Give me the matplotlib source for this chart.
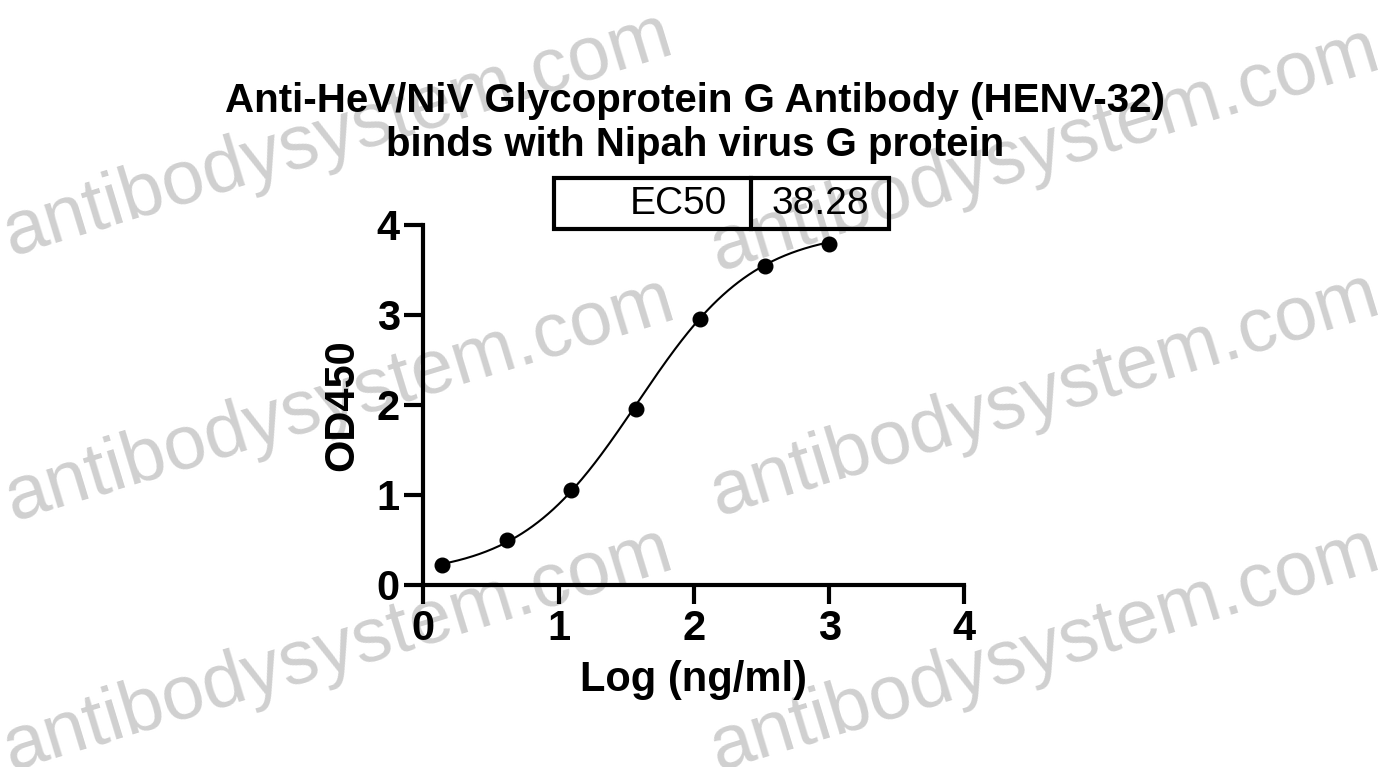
import matplotlib
matplotlib.use("Agg")
import matplotlib.pyplot as plt
import numpy as np

# Data
log_conc = [0.138, 0.615, 1.092, 1.569, 2.046, 2.523, 3.0]
od450 = [0.22, 0.50, 1.06, 1.96, 2.96, 3.54, 3.79]

# 4PL fit shown as the line
ec50 = 38.28
fit_bottom = 0.10
fit_top = 3.95
fit_hill = 1.0

x_ticks = [0, 1, 2, 3, 4]
y_ticks = [0, 1, 2, 3, 4]

title = "Anti-HeV/NiV Glycoprotein G Antibody (HENV-32)\nbinds with Nipah virus G protein"
watermark = "antibodysystem.com"

plt.rcParams['font.family'] = ['Liberation Sans', 'DejaVu Sans']

fig = plt.figure(figsize=(13.88, 7.67), dpi=100)
ax = fig.add_axes([0.305, 0.2373, 0.3898, 0.4694])
ax.patch.set_alpha(0)

# watermark behind everything
wm_pos = [(338, 135), (1045, 150), (340, 400), (1045, 395), (338, 650), (1045, 650)]
for px, py in wm_pos:
    fig.text(px / 1388, 1 - py / 767, watermark, fontsize=55, color="#d0d0d0",
             rotation=17, ha="center", va="center", rotation_mode="anchor", zorder=-5)

# fit curve
xs = np.linspace(log_conc[0], log_conc[-1], 300)
ys = fit_bottom + (fit_top - fit_bottom) / (1 + 10 ** ((np.log10(ec50) - xs) * fit_hill))
ax.plot(xs, ys, color="black", lw=1.5, zorder=3)
ax.plot(log_conc, od450, "o", color="black", markersize=10.5, zorder=4)

ax.set_xlim(0, 4)
ax.set_ylim(0, 4)
ax.set_xticks(x_ticks)
ax.set_yticks(y_ticks)
for s in ["top", "right"]:
    ax.spines[s].set_visible(False)
for s in ["left", "bottom"]:
    ax.spines[s].set_linewidth(3)
ax.tick_params(length=14, width=3, labelsize=30, pad=3)
for lab in ax.get_xticklabels() + ax.get_yticklabels():
    lab.set_fontweight("bold")

ax.set_xlabel("Log (ng/ml)", fontsize=30, fontweight="bold", labelpad=8)
ax.set_ylabel("OD450", fontsize=30, fontweight="bold", labelpad=10)

fig.text(695 / 1388, 1 - 123 / 767, title, fontsize=29, fontweight="bold",
         ha="center", va="center", linespacing=1.2)

# EC50 box
bx0, bx1, bdiv, by0, by1 = 554 / 1388, 889 / 1388, 751 / 1388, 1 - 229 / 767, 1 - 178 / 767
rect = plt.Rectangle((bx0, by0), bx1 - bx0, by1 - by0, transform=fig.transFigure,
                     fill=False, lw=3, color="black")
fig.add_artist(rect)
fig.add_artist(plt.Line2D([bdiv, bdiv], [by0, by1], transform=fig.transFigure, lw=3, color="black"))
fig.text(727 / 1388, (by0 + by1) / 2, "EC50", fontsize=28, ha="right", va="center")
fig.text((bdiv + bx1) / 2, (by0 + by1) / 2, "%.2f" % ec50, fontsize=28, ha="center", va="center")

fig.savefig("out.png", dpi=100)
